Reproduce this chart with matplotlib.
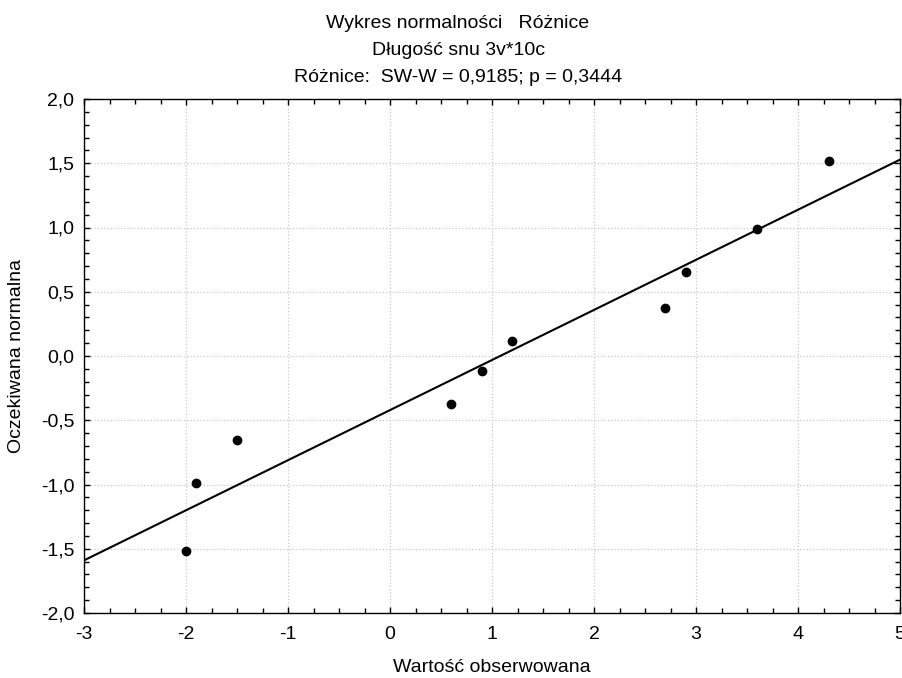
import numpy as np
import matplotlib.pyplot as plt
from matplotlib.ticker import MultipleLocator, FuncFormatter

plt.rcParams['font.family'] = ['Liberation Sans', 'DejaVu Sans']

# dane
observed = [-2.0, -1.9, -1.5, 0.6, 0.9, 1.2, 2.7, 2.9, 3.6, 4.3]
expected = [-1.52, -0.99, -0.65, -0.37, -0.12, 0.12, 0.37, 0.65, 0.99, 1.52]
title_lines = ["Wykres normalności   Różnice",
               "Długość snu 3v*10c",
               "Różnice:  SW-W = 0,9185; p = 0,3444"]

x = np.array(observed)
y = np.array(expected)
slope, intercept = np.polyfit(x, y, 1)

fig = plt.figure(figsize=(9.02, 6.78), dpi=100)
ax = fig.add_axes([84 / 902, 1 - 613 / 678, (900 - 84) / 902, (613 - 99) / 678])

xl = np.array([-3.0, 5.0])
ax.plot(xl, slope * xl + intercept, color='black', linewidth=1.5, zorder=3)
ax.plot(x, y, linestyle='', marker='o', markersize=6, color='black', zorder=4)

ax.set_xlim(-3, 5)
ax.set_ylim(-2, 2)
ax.xaxis.set_major_locator(MultipleLocator(1))
ax.xaxis.set_minor_locator(MultipleLocator(0.25))
ax.yaxis.set_major_locator(MultipleLocator(0.5))
ax.yaxis.set_minor_locator(MultipleLocator(0.1))
ax.yaxis.set_major_formatter(FuncFormatter(lambda v, p: f"{v:.1f}".replace('.', ',')))
ax.xaxis.set_major_formatter(FuncFormatter(lambda v, p: f"{v:.0f}"))

ax.tick_params(which='both', direction='in', top=True, right=True, labelsize=14, color='black')
ax.tick_params(which='major', length=4, width=1)
ax.tick_params(which='minor', length=3.5, width=1)
ax.tick_params(axis='x', which='major', pad=9.5)
ax.tick_params(axis='y', which='major', pad=7)

ax.grid(True, which='major', color='#c8c8c8', linestyle=':', linewidth=0.9)
for s in ax.spines.values():
    s.set_linewidth(1.0)

ax.set_xlabel("Wartość obserwowana", fontsize=14)
ax.set_ylabel("Oczekiwana normalna", fontsize=14)
ax.xaxis.set_label_coords(0.5, -(668 - 613) / 514, transform=ax.transAxes)
ax.xaxis.label.set_va('center')
ax.yaxis.set_label_coords(-(84 - 17) / 816, 0.5, transform=ax.transAxes)
ax.yaxis.label.set_va('center')

for i, line in enumerate(title_lines):
    fig.text(458 / 902, 1 - (28 + 27 * i) / 678, line, ha='center', va='baseline', fontsize=14)

fig.savefig("out.png", dpi=100)
